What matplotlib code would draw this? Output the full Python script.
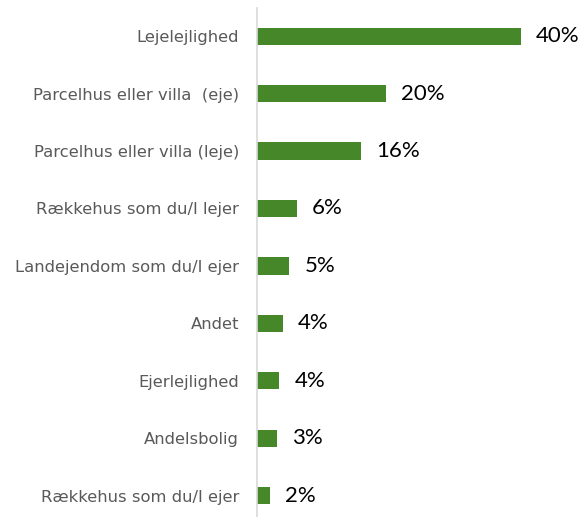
import matplotlib
matplotlib.use("Agg")
import matplotlib.pyplot as plt

categories = [
    "Lejelejlighed",
    "Parcelhus eller villa  (eje)",
    "Parcelhus eller villa (leje)",
    "Rækkehus som du/I lejer",
    "Landejendom som du/I ejer",
    "Andet",
    "Ejerlejlighed",
    "Andelsbolig",
    "Rækkehus som du/I ejer",
]
values = [40, 19.5, 15.8, 6.05, 4.9, 3.9, 3.4, 3.1, 1.9]
labels = ["40%", "20%", "16%", "6%", "5%", "4%", "4%", "3%", "2%"]

GREEN = "#458729"
GRAY = "#595959"

fig = plt.figure(figsize=(5.83, 5.17), dpi=100)
ax = fig.add_axes([257 / 583, 0, 1 - 257 / 583, 1 - 8 / 517])

y = list(range(len(categories)))
ax.barh(y, values, height=0.3, color=GREEN)

for yi, v, lab in zip(y, values, labels):
    ax.annotate(lab, (v, yi), xytext=(15, 0), textcoords="offset pixels",
                va="center", ha="left", fontsize=16, family="Lato", color="black")

ax.set_xlim(0, (583 - 257) / 6.6)
ax.set_ylim(8.37, -0.49)
ax.set_yticks(y)
ax.set_yticklabels(categories, fontsize=11.8, color=GRAY, family="DejaVu Sans")
ax.tick_params(axis="y", length=0, pad=13)
ax.set_xticks([])

for side in ["top", "right", "bottom"]:
    ax.spines[side].set_visible(False)
ax.spines["left"].set_color("#d9d9d9")
ax.spines["left"].set_linewidth(1.2)

fig.savefig("out.png", dpi=100)
